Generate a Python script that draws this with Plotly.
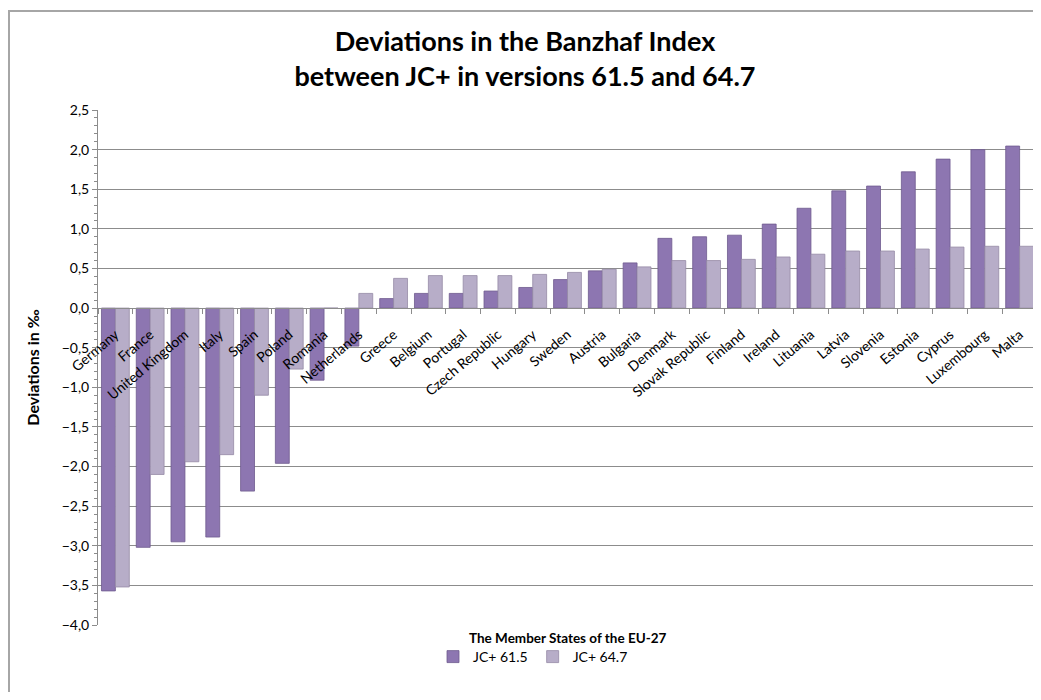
import plotly.graph_objects as go

countries = ["Germany", "France", "United Kingdom", "Italy", "Spain", "Poland", "Romania",
             "Netherlands", "Greece", "Belgium", "Portugal", "Czech Republic", "Hungary",
             "Sweden", "Austria", "Bulgaria", "Denmark", "Slovak Republic", "Finland",
             "Ireland", "Lituania", "Latvia", "Slovenia", "Estonia", "Cyprus", "Luxembourg", "Malta"]

jc_615 = [-3.57, -3.02, -2.95, -2.89, -2.31, -1.96, -0.91, -0.48, 0.12, 0.185, 0.185, 0.215,
          0.26, 0.36, 0.47, 0.57, 0.88, 0.90, 0.92, 1.06, 1.26, 1.48, 1.54, 1.72, 1.88, 2.00, 2.045]
jc_647 = [-3.52, -2.10, -1.94, -1.85, -1.10, -0.77, 0.0, 0.185, 0.375, 0.41, 0.41, 0.41,
          0.425, 0.45, 0.49, 0.52, 0.60, 0.60, 0.615, 0.645, 0.68, 0.72, 0.72, 0.745, 0.77, 0.78, 0.78]

series_names = ["JC+ 61.5", "JC+ 64.7"]
series_colors = ["#8D76B1", "#B7ADC8"]
line_colors = ["#6E5A8E", "#958AA6"]

FONT = "Lato"
OFF = 8  # page offset of the figure inside the window
W, H = 1041 - OFF, 700 - 2 * OFF
ML, MT = 98 - OFF, 110 - OFF
MR = W - (1037 - OFF)
MB = H - (625 - OFF)
PW, PH = W - ML - MR, H - MT - MB
YMIN, YMAX = -4.0, 2.5

fig = go.Figure()
for name, vals, col, lc in zip(series_names, [jc_615, jc_647], series_colors, line_colors):
    fig.add_trace(go.Bar(x=countries, y=vals, name=name,
                         marker=dict(color=col, line=dict(color=lc, width=0.8))))

def px_x(p):
    return (p - OFF - ML) / PW

def px_y(p):
    return 1 - (p - OFF - MT) / PH

fig.update_layout(
    width=W, height=H,
    margin=dict(l=ML, r=MR, t=MT, b=MB, autoexpand=False),
    paper_bgcolor="white", plot_bgcolor="white",
    separators=",.",
    font=dict(family=FONT, size=14, color="black"),
    barmode="group", bargap=0.2, bargroupgap=0.0,
    title=dict(text="<b>Deviations in the Banzhaf Index<br>between JC+ in versions 61.5 and 64.7</b>",
               x=(525 - OFF) / W, xref="container", xanchor="center",
               y=1 - (58 - OFF - 7) / H, yref="container", yanchor="middle",
               font=dict(family=FONT, size=27, color="black")),
    showlegend=True,
    legend=dict(orientation="h", xref="container", yref="container",
                x=(533 - OFF) / W, xanchor="center", y=1 - (657 - OFF) / H, yanchor="middle",
                font=dict(family=FONT, size=14), itemwidth=30, traceorder="normal"),
    xaxis=dict(type="category", anchor="free", automargin=False,
               position=(0 - YMIN) / (YMAX - YMIN),
               showline=True, linecolor="#8C8C8C", linewidth=1,
               ticks="outside", tickson="boundaries", ticklen=5, tickcolor="#8C8C8C",
               tickangle=-40, showgrid=False, ticklabelstandoff=12,
               tickfont=dict(family=FONT, size=14, color="black")),
    yaxis=dict(range=[YMIN, YMAX], dtick=0.5, tickformat=".1f", automargin=False,
               showgrid=True, gridcolor="#8C8C8C", gridwidth=1,
               showline=True, linecolor="#8C8C8C", linewidth=1,
               ticks="outside", ticklen=5, tickcolor="#8C8C8C",
               minor=dict(dtick=0.1, ticks="outside", ticklen=3, tickcolor="#8C8C8C", showgrid=False),
               zeroline=False,
               tickfont=dict(family=FONT, size=14, color="black"),
               title=dict(text="<b>Deviations in ‰</b>", standoff=18,
                          font=dict(family=FONT, size=16, color="black"))),
    annotations=[dict(text="<b>The Member States of the EU-27</b>", xref="paper", yref="paper",
                      x=0.5, y=px_y(638), xanchor="center", yanchor="middle", showarrow=False,
                      font=dict(family=FONT, size=13.5, color="black"))],
    shapes=[
        dict(type="rect", xref="paper", yref="paper", x0=px_x(9), x1=px_x(1050), y0=px_y(11), y1=px_y(710),
             fillcolor="rgba(0,0,0,0)", line=dict(color="#A6A6A6", width=2), layer="below"),
    ],
)

fig.write_html("out.html", config={"displayModeBar": False})
